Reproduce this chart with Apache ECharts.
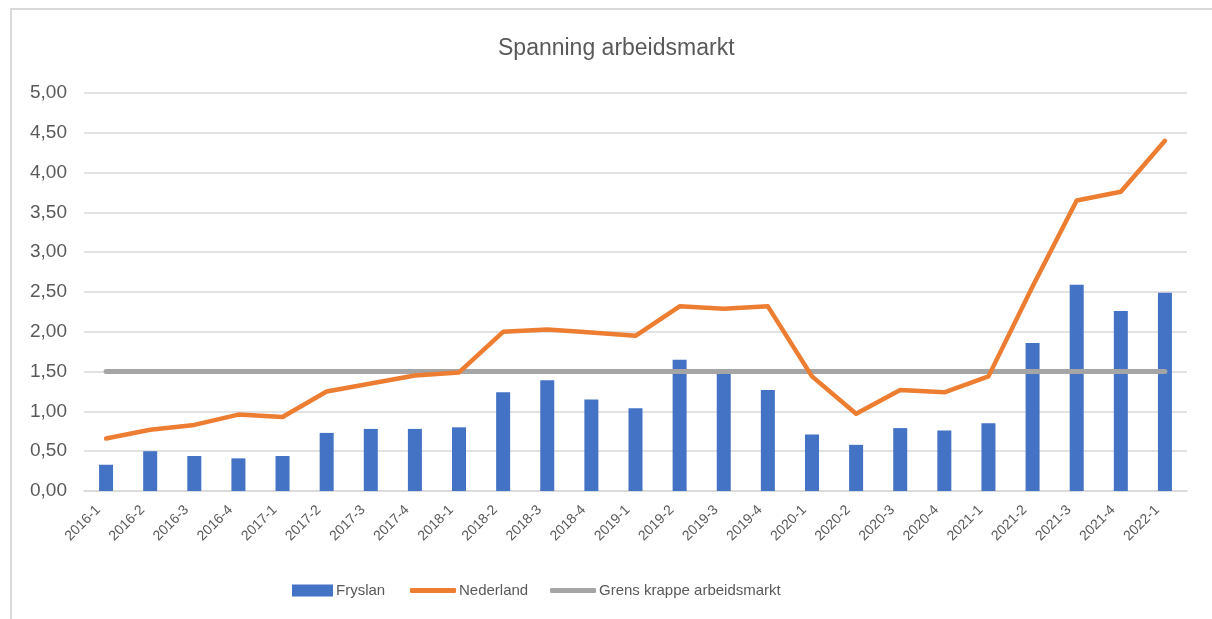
<!DOCTYPE html>
<html>
<head>
<meta charset="utf-8">
<title>Spanning arbeidsmarkt</title>
<script src="https://cdn.jsdelivr.net/npm/echarts@6/dist/echarts.min.js"></script>
<style>
  html, body { margin: 0; padding: 0; background: #ffffff; }
  #chart { width: 1212px; height: 619px; }
</style>
</head>
<body>
<div id="chart"></div>
<script>
// Kwartalen
const quarters = ['2016-1','2016-2','2016-3','2016-4','2017-1','2017-2','2017-3','2017-4',
  '2018-1','2018-2','2018-3','2018-4','2019-1','2019-2','2019-3','2019-4',
  '2020-1','2020-2','2020-3','2020-4','2021-1','2021-2','2021-3','2021-4','2022-1'];

// Spanningsindicator Fryslân (kolommen)
const fryslan = [0.33, 0.50, 0.44, 0.41, 0.44, 0.73, 0.78, 0.78,
  0.80, 1.24, 1.39, 1.15, 1.04, 1.65, 1.48, 1.27,
  0.71, 0.58, 0.79, 0.76, 0.85, 1.86, 2.59, 2.26, 2.49];

// Spanningsindicator Nederland (lijn)
const nederland = [0.66, 0.77, 0.83, 0.96, 0.93, 1.25, 1.35, 1.45,
  1.49, 2.00, 2.03, 1.99, 1.95, 2.32, 2.29, 2.32,
  1.44, 0.97, 1.27, 1.24, 1.44, 2.57, 3.65, 3.76, 4.40];

// Grens krappe arbeidsmarkt
const grens = [1.5, 1.5, 1.5, 1.5, 1.5, 1.5, 1.5, 1.5,
  1.5, 1.5, 1.5, 1.5, 1.5, 1.5, 1.5, 1.5,
  1.5, 1.5, 1.5, 1.5, 1.5, 1.5, 1.5, 1.5, 1.5];

// Waarden op de y-as
const yMin = 0, yMax = 5, yStep = 0.5;

const textColor = '#595959';
const font = '"Liberation Sans", Arial, sans-serif';

const chart = echarts.init(document.getElementById('chart'), null, { renderer: 'canvas' });

const legendBase = {
  top: 583,
  padding: 0,
  itemGap: 0,
  selectedMode: false,
  textStyle: { color: textColor, fontSize: 15, fontFamily: font, padding: [0, 0, 0, -2] }
};

chart.setOption({
  backgroundColor: '#ffffff',
  animation: false,
  graphic: [{
    type: 'rect',
    shape: { x: 11, y: 9, width: 1240, height: 640 },
    style: { fill: 'none', stroke: '#d9d9d9', lineWidth: 2 },
    silent: true
  }],
  title: {
    text: 'Spanning arbeidsmarkt',
    left: 493,
    top: 32,
    textStyle: { color: textColor, fontSize: 23, fontWeight: 'normal', fontFamily: font }
  },
  legend: [
    Object.assign({}, legendBase, {
      left: 292, data: [{ name: 'Fryslan', icon: 'rect' }], itemWidth: 41, itemHeight: 12
    }),
    Object.assign({}, legendBase, {
      left: 410, data: [{ name: 'Nederland', icon: 'roundRect' }], itemWidth: 46, itemHeight: 5
    }),
    Object.assign({}, legendBase, {
      left: 550, data: [{ name: 'Grens krappe arbeidsmarkt', icon: 'roundRect' }], itemWidth: 46, itemHeight: 5
    })
  ],
  grid: { left: 84, right: 25, top: 93, bottom: 128, containLabel: false },
  xAxis: {
    type: 'category',
    data: quarters,
    boundaryGap: true,
    axisLine: { show: true, lineStyle: { color: '#d9d9d9', width: 1.5 } },
    axisTick: { show: false },
    axisLabel: {
      interval: 0,
      rotate: 45,
      margin: 9,
      padding: [0, 11, 0, 0],
      color: textColor,
      fontSize: 14,
      fontFamily: font
    }
  },
  yAxis: {
    type: 'value',
    min: yMin,
    max: yMax,
    interval: yStep,
    axisLine: { show: false },
    axisTick: { show: false },
    splitLine: { lineStyle: { color: '#d9d9d9', width: 1.5 } },
    axisLabel: {
      margin: 17,
      color: textColor,
      fontSize: 19,
      fontFamily: font,
      formatter: v => v.toFixed(2).replace('.', ',')
    }
  },
  series: [
    {
      name: 'Fryslan',
      type: 'bar',
      data: fryslan,
      barWidth: 14,
      itemStyle: { color: '#4472c4' },
      z: 2
    },
    {
      name: 'Nederland',
      type: 'line',
      data: nederland,
      symbol: 'none',
      lineStyle: { color: '#ed7d31', width: 4.5, cap: 'round', join: 'round' },
      itemStyle: { color: '#ed7d31' },
      z: 4
    },
    {
      name: 'Grens krappe arbeidsmarkt',
      type: 'line',
      data: grens,
      symbol: 'none',
      lineStyle: { color: '#a5a5a5', width: 5, cap: 'round' },
      itemStyle: { color: '#a5a5a5' },
      z: 3
    }
  ]
});
</script>
</body>
</html>
